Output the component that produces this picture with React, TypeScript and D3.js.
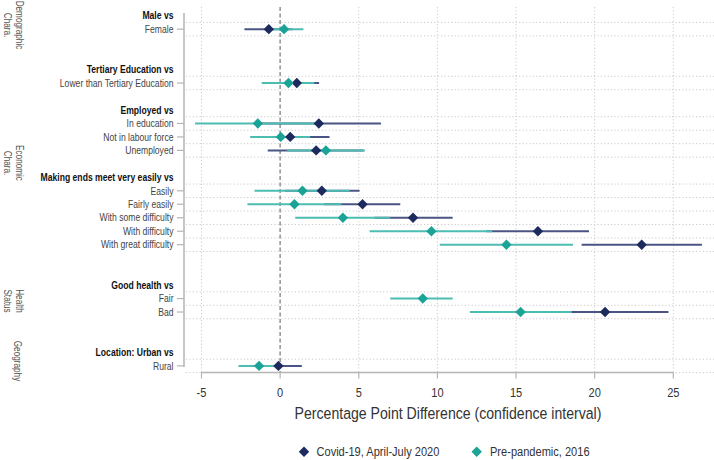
import React from "react";
import * as d3 from "d3";

const rowLabels = [
  "Male vs", "Female",
  "Tertiary Education vs", "Lower than Tertiary Education",
  "Employed vs", "In education", "Not in labour force", "Unemployed",
  "Making ends meet very easily vs", "Easily", "Fairly easily", "With some difficulty", "With difficulty", "With great difficulty",
  "Good health vs", "Fair", "Bad",
  "Location: Urban vs", "Rural",
];
const rowSlots = [0, 1, 4, 5, 7, 8, 9, 10, 12, 13, 14, 15, 16, 17, 20, 21, 22, 25, 26];
const rowIsHeader = [true, false, true, false, true, false, false, false, true, false, false, false, false, false, true, false, false, true, false];

const categories = ["Female", "Lower than Tertiary Education", "In education", "Not in labour force", "Unemployed", "Easily", "Fairly easily", "With some difficulty", "With difficulty", "With great difficulty", "Fair", "Bad", "Rural"];
const categorySlots = [1, 5, 8, 9, 10, 13, 14, 15, 16, 17, 21, 22, 26];

const covidEst: (number | null)[] = [-0.72, 1.06, 2.46, 0.64, 2.29, 2.65, 5.24, 8.45, 16.39, 22.99, null, 20.66, -0.11];
const covidLo: (number | null)[] = [-2.27, -0.36, -1.5, -1.8, -0.79, 0.3, 2.8, 6.0, 13.1, 19.17, null, 16.6, -1.6];
const covidHi: (number | null)[] = [0.8, 2.48, 6.41, 3.14, 5.3, 5.05, 7.64, 10.97, 19.64, 26.82, null, 24.69, 1.38];

const preEst = [0.25, 0.53, -1.42, 0.04, 2.91, 1.42, 0.91, 3.99, 9.62, 14.39, 9.07, 15.29, -1.34];
const preLo = [-1.0, -1.17, -5.41, -1.91, 0.43, -1.63, -2.08, 0.96, 5.69, 10.15, 7.0, 12.06, -2.65];
const preHi = [1.48, 2.17, 2.6, 1.91, 5.39, 4.42, 3.89, 7.0, 13.48, 18.62, 10.97, 18.54, -0.05];

const xTicks = [-5, 0, 5, 10, 15, 20, 25];
const gridGroups = [[1, 1], [5, 5], [8, 10], [13, 17], [21, 22], [26, 26]];

const groupLabels = [
  { lines: ["Demographic", "Chara."], y: 25 },
  { lines: ["Economic", "Chara."], y: 163 },
  { lines: ["Health", "Status"], y: 301 },
  { lines: ["Geography"], y: 361 },
];

const seriesNames = ["Covid-19, April-July 2020", "Pre-pandemic, 2016"];

const NAVY = "#1c2a5e";
const NAVY_CI = "#4b5585";
const TEAL = "#1aa396";
const TEAL_CI = "#4dbdb2";
const FONT = "'Liberation Sans', Arial, sans-serif";
const SX = 0.82;

const diamond = (cx: number, cy: number, r: number) =>
  `M${cx},${cy - r}L${cx + r},${cy}L${cx},${cy + r}L${cx - r},${cy}Z`;

export default function App() {
  const W = 714, H = 460;
  const x = d3.scaleLinear().domain([-5, 25]).range([201.5, 673.3]);
  const y = d3.scaleLinear().domain([0, 26]).range([15.7, 365.9]);
  const axisY = 372.5;
  const yAxisX = 184;
  const top = 7;

  const hLines: number[] = [];
  gridGroups.forEach(([a, b]) => {
    for (let s = a - 0.5; s <= b + 0.5; s += 1) hLines.push(s);
  });

  const nt = (tx: number, ty: number) => `translate(${tx},${ty}) scale(${SX},1)`;

  return (
    <svg width={W} height={H} style={{ position: "absolute", left: 0, top: 0, background: "#fff" }} fontFamily={FONT}>
      <rect x={0} y={0} width={W} height={H} fill="#fff" />
      {/* vertical grid */}
      {xTicks.filter(t => t !== 0).map(t => (
        <line key={"vg" + t} x1={x(t)} x2={x(t)} y1={top} y2={axisY} stroke="#cacaca" strokeWidth={1} strokeDasharray="1.2,2.2" />
      ))}
      {/* horizontal grid */}
      {hLines.map((s, i) => (
        <line key={"hg" + i} x1={yAxisX + 2} x2={W} y1={y(s)} y2={y(s)} stroke="#cacaca" strokeWidth={1} strokeDasharray="1.2,2.2" />
      ))}
      {/* zero line */}
      <line x1={x(0)} x2={x(0)} y1={top} y2={axisY} stroke="#999" strokeWidth={1.6} strokeDasharray="4,2.5" />

      {/* CIs */}
      {categories.map((c, i) =>
        covidLo[i] != null ? (
          <line key={"cci" + i} x1={x(covidLo[i] as number)} x2={x(covidHi[i] as number)} y1={y(categorySlots[i])} y2={y(categorySlots[i])} stroke={NAVY_CI} strokeWidth={2} />
        ) : null
      )}
      {categories.map((c, i) => (
        <line key={"pci" + i} x1={x(preLo[i])} x2={x(preHi[i])} y1={y(categorySlots[i])} y2={y(categorySlots[i])} stroke={TEAL_CI} strokeWidth={2} />
      ))}
      {/* points */}
      {categories.map((c, i) =>
        covidEst[i] != null ? (
          <path key={"cp" + i} d={diamond(x(covidEst[i] as number), y(categorySlots[i]), 5.2)} fill={NAVY} />
        ) : null
      )}
      {categories.map((c, i) => (
        <path key={"pp" + i} d={diamond(x(preEst[i]), y(categorySlots[i]), 5.2)} fill={TEAL} />
      ))}

      {/* y axis */}
      <line x1={yAxisX} x2={yAxisX} y1={13} y2={y(26) + 1} stroke="#b5b5b5" strokeWidth={1.5} />
      {rowLabels.map((lab, i) => {
        const yy = y(rowSlots[i]);
        const hdr = rowIsHeader[i];
        return (
          <g key={"rl" + i}>
            {!hdr && <line x1={yAxisX - 7} x2={yAxisX} y1={yy} y2={yy} stroke="#b5b5b5" strokeWidth={1.2} />}
            <text transform={nt(173.5, yy + 3.7)} textAnchor="end" fontSize={10.5} fontWeight={hdr ? "bold" : "normal"} fill={hdr ? "#111" : "#444"}>
              {lab}
            </text>
          </g>
        );
      })}

      {/* group labels */}
      {groupLabels.map((g, gi) => (
        <g key={"gl" + gi}>
          {g.lines.map((ln, li) => (
            <text key={li} transform={`translate(${(g.lines.length === 1 ? 14 : 15.5) - li * 11.5},${g.y}) rotate(90) scale(${SX},1)`} textAnchor="middle" fontSize={10} fill="#555">
              {ln}
            </text>
          ))}
        </g>
      ))}

      {/* x axis */}
      <line x1={x(-5)} x2={x(25)} y1={axisY} y2={axisY} stroke="#b5b5b5" strokeWidth={1.5} />
      {xTicks.map(t => (
        <g key={"xt" + t}>
          <line x1={x(t)} x2={x(t)} y1={axisY} y2={axisY + 6} stroke="#b5b5b5" strokeWidth={1.2} />
          <text transform={nt(x(t), 396.5)} textAnchor="middle" fontSize={13.5} fill="#333">{t}</text>
        </g>
      ))}
      <text transform={nt(448, 418.5)} textAnchor="middle" fontSize={17.2} fill="#333">
        Percentage Point Difference (confidence interval)
      </text>

      {/* legend */}
      <path d={diamond(304, 451.7, 5.2)} fill={NAVY} />
      <text transform={nt(316.5, 456.3)} fontSize={13.5} fill="#333">{seriesNames[0]}</text>
      <path d={diamond(476.7, 451.7, 5.2)} fill={TEAL} />
      <text transform={nt(490, 456.3)} fontSize={13.5} fill="#333">{seriesNames[1]}</text>
    </svg>
  );
}
